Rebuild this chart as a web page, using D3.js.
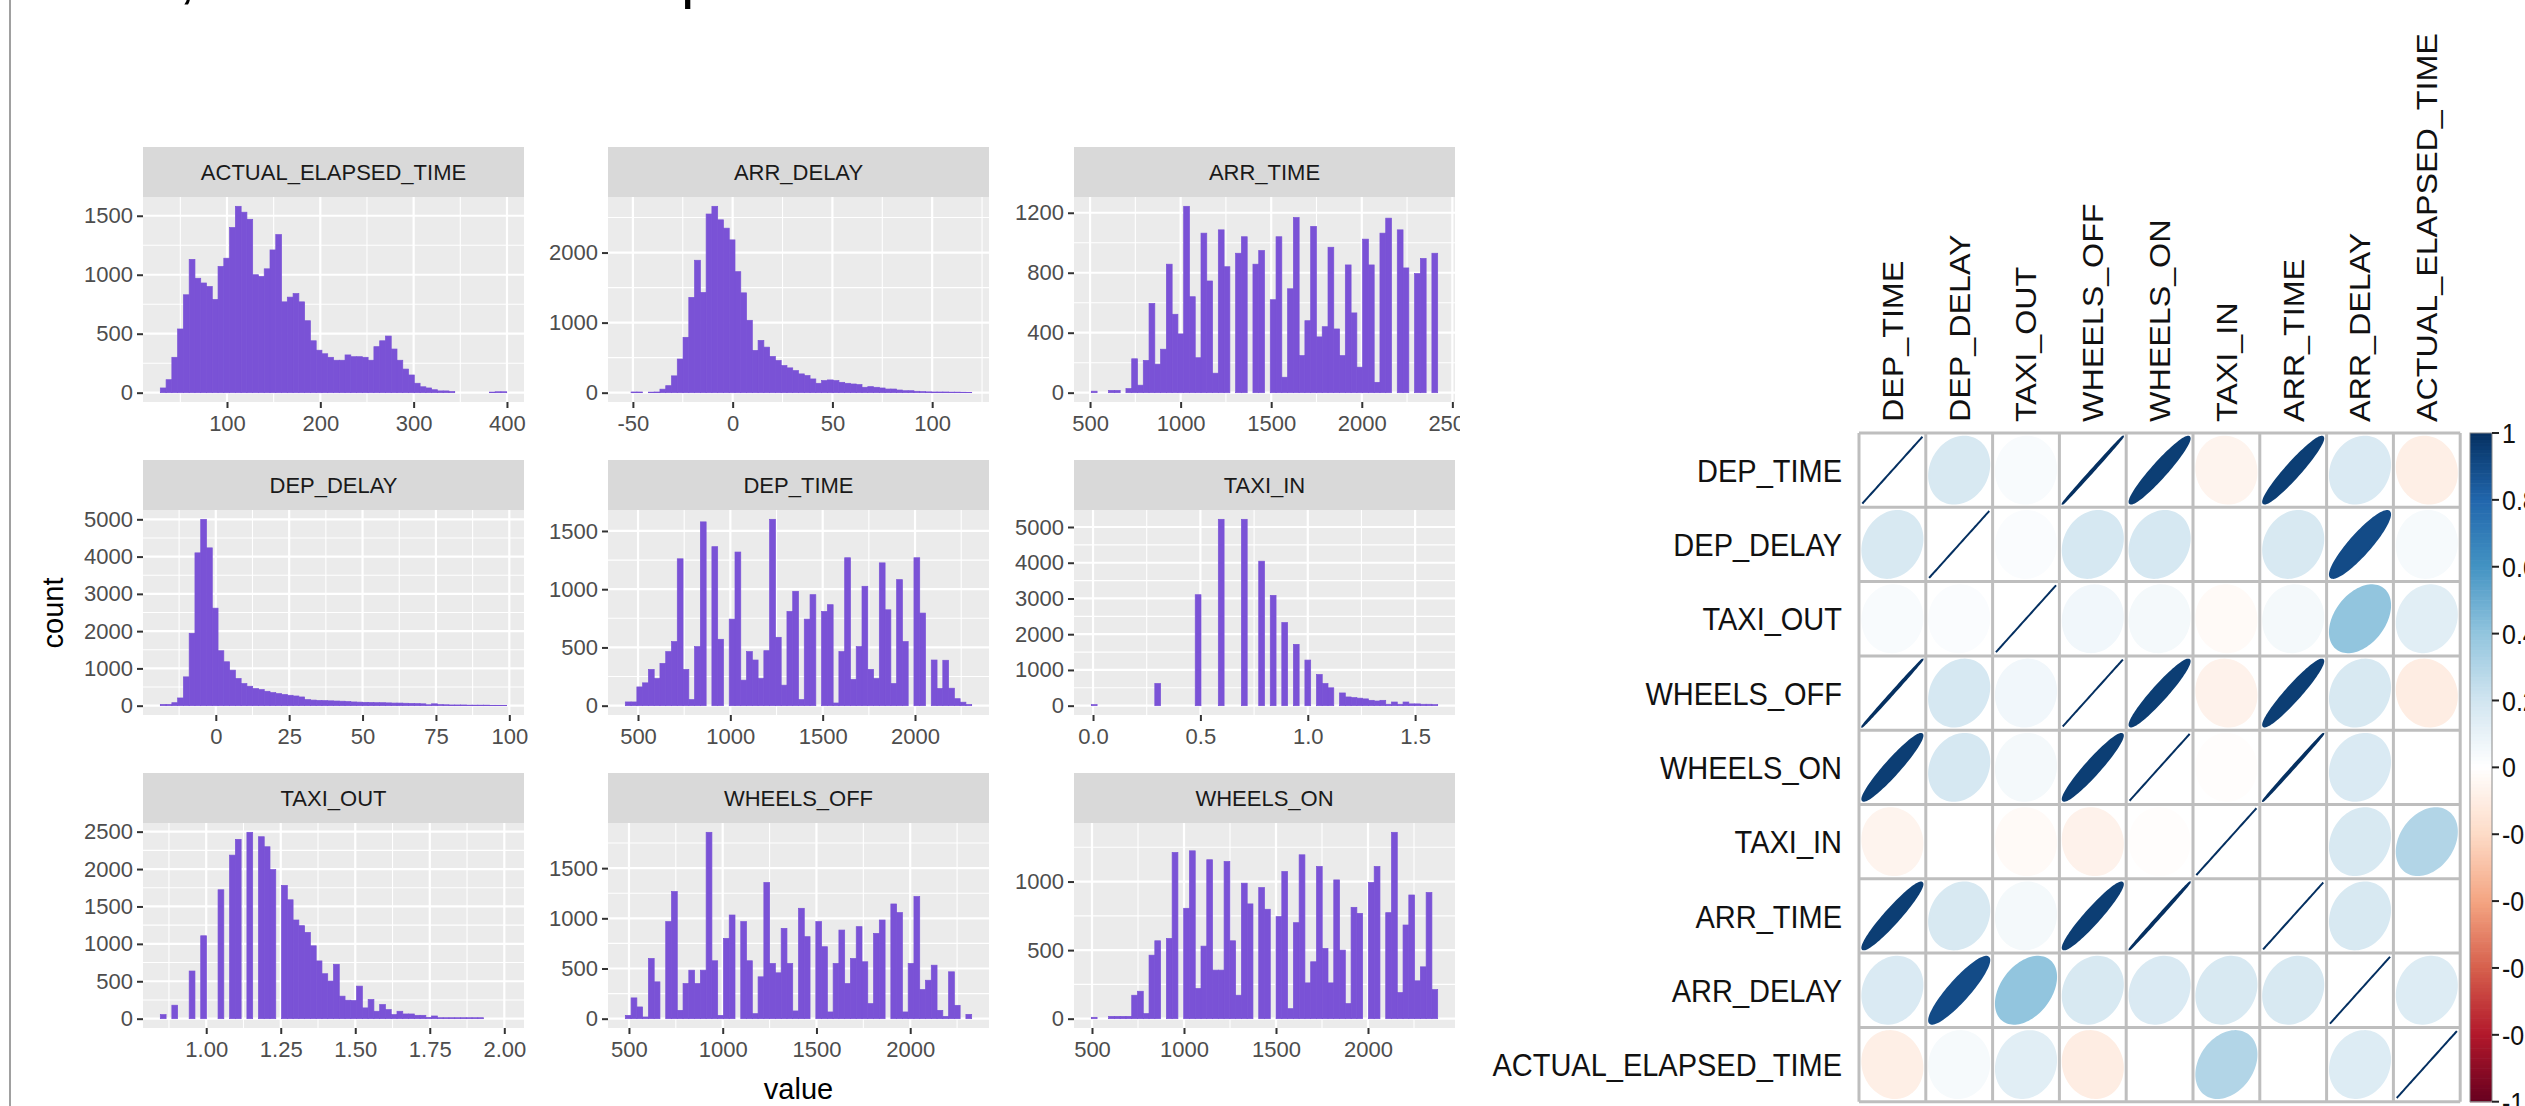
<!DOCTYPE html>
<html>
<head>
<meta charset="utf-8">
<script src="https://cdn.jsdelivr.net/npm/d3@7/dist/d3.min.js"></script>
<style>
  body { margin: 0; background: #fff; }
  svg { display: block; }
  text { font-family: "Liberation Sans", Arial, sans-serif; }
</style>
</head>
<body>
<script>
// ---------- histogram data (60 bins per variable) ----------
var facetNames = ["ACTUAL_ELAPSED_TIME", "ARR_DELAY", "ARR_TIME", "DEP_DELAY", "DEP_TIME",
                  "TAXI_IN", "TAXI_OUT", "WHEELS_OFF", "WHEELS_ON"];

// first and last bin edge of each facet
var binRange = [[28.55, 399.7], [-53.8, 119.8], [507, 2419], [-18.9, 99.1], [431.3, 2306.9],
                [-0.008, 1.605], [0.846, 2.008], [480.6, 2327.8], [496.3, 2378.7]];

var countsActualElapsed = [40,110,300,540,830,1130,970,930,900,790, 1070,1140,1400,1580,1530,1470,1000,985,1050,1210,
  1340,770,810,840,770,610,440,360,330,300, 275,275,320,305,305,300,275,390,440,480,
  370,275,200,150,80,50,40,25,15,15, 10,0,0,0,0,0,0,5,8,8];
var countsArrDelay = [0,10,10,0,8,10,50,100,240,480, 790,1360,1890,1430,2550,2660,2467,2348,2181,1727,
  1425,1033,603,746,650,517,459,387,354,315, 268,244,196,134,172,182,172,148,134,124,
  115,77,86,77,67,52,52,38,28,28, 20,15,12,10,10,10,8,8,6,5];
var countsArrTime = [10,0,0,15,15,0,27,226,50,215, 595,190,290,857,523,392,1243,640,233,1064,
  745,130,1086,840,0,930,1040,0,857,948, 0,620,1040,103,693,1168,247,480,1109,372,
  440,970,425,247,852,532,170,1024,852,69, 1064,1164,0,1086,832,0,794,895,0,930];
var countsDepDelay = [35,35,80,207,773,1942,4100,5000,4234,2616, 1474,1178,953,728,593,521,458,431,386,350,
  323,300,279,260,234,162,150,140,135,130, 125,120,110,100,95,90,85,80,80,75,
  70,70,65,60,55,50,25,50,30,25, 20,20,20,15,15,15,15,10,10,10];
var countsDepTime = [32,32,161,196,311,233,363,464,550,1261, 311,52,507,1578,0,1365,570,0,743,1319,
  219,464,392,233,472,1600,587,176,809,982, 52,743,953,0,809,867,23,464,1270,225,
  507,1025,311,233,1226,823,190,1082,550,0, 1270,795,0,392,147,390,150,60,30,10];
var countsTaxiIn = [30,0,0,0,0,0,0,0,0,0, 0,620,0,0,0,0,0,0,3105,0,
  0,0,5215,0,0,0,5215,0,0,4043, 0,3086,0,2326,0,1716,0,1276,0,872,
  620,500,0,356,244,225,210,190,150,131, 150,40,103,40,103,50,50,40,40,30];
var countsTaxiOut = [54,0,180,0,0,637,0,1108,0,0, 1723,0,2186,2397,0,2491,0,2432,2298,1993,
  0,1782,1589,1319,1243,1153,974,772,601,503, 727,301,247,242,435,144,256,99,189,121,
  54,99,63,63,45,45,18,36,13,13, 13,13,13,13,13,13,0,0,0,0];
var countsWheelsOff = [33,207,117,17,600,367,0,967,1267,83, 350,483,350,483,1857,577,33,800,1033,0,
  967,577,50,417,1357,550,457,900,550,77, 1100,817,0,967,717,67,550,883,350,600,
  917,567,150,850,983,0,1143,1057,67,550, 1217,290,383,533,83,23,467,133,0,43];
var countsWheelsOn = [10,0,0,17,17,17,17,171,200,37, 463,568,0,585,1212,0,805,1224,220,529,
  1159,354,354,1146,568,171,988,837,0,956, 798,0,744,1073,73,700,1195,261,415,1110,
  512,261,1012,500,110,812,768,0,993,1110, 0,773,1359,190,683,902,276,378,920,212];

var histCounts = [countsActualElapsed, countsArrDelay, countsArrTime, countsDepDelay, countsDepTime,
                  countsTaxiIn, countsTaxiOut, countsWheelsOff, countsWheelsOn];

var xTicks = [[100,200,300,400], [-50,0,50,100], [500,1000,1500,2000,2500], [0,25,50,75,100],
              [500,1000,1500,2000], [0,0.5,1,1.5], [1,1.25,1.5,1.75,2], [500,1000,1500,2000], [500,1000,1500,2000]];
var xTickLabels = [["100","200","300","400"], ["-50","0","50","100"], ["500","1000","1500","2000","2500"],
                   ["0","25","50","75","100"], ["500","1000","1500","2000"], ["0.0","0.5","1.0","1.5"],
                   ["1.00","1.25","1.50","1.75","2.00"], ["500","1000","1500","2000"], ["500","1000","1500","2000"]];
var yTicks = [[0,500,1000,1500], [0,1000,2000], [0,400,800,1200], [0,1000,2000,3000,4000,5000],
              [0,500,1000,1500], [0,1000,2000,3000,4000,5000], [0,500,1000,1500,2000,2500],
              [0,500,1000,1500], [0,500,1000]];

// ---------- correlation data ----------
var corVars = ["DEP_TIME", "DEP_DELAY", "TAXI_OUT", "WHEELS_OFF", "WHEELS_ON",
               "TAXI_IN", "ARR_TIME", "ARR_DELAY", "ACTUAL_ELAPSED_TIME"];
var corMatrix = [
  [1,     0.17,  0.03,  0.999, 0.95,  -0.06, 0.95,  0.16, -0.09],
  [0.17,  1,     0.02,  0.18,  0.18,  0.00,  0.17,  0.90,  0.04],
  [0.03,  0.02,  1,     0.06,  0.05,  -0.03, 0.05,  0.40,  0.13],
  [0.999, 0.18,  0.06,  1,     0.95,  -0.07, 0.95,  0.17, -0.10],
  [0.95,  0.18,  0.05,  0.95,  1,     -0.01, 0.999, 0.16,  0.00],
  [-0.06, 0.00,  -0.03, -0.07, -0.01, 1,     0.00,  0.17,  0.30],
  [0.95,  0.17,  0.05,  0.95,  0.999, 0.00,  1,     0.17,  0.00],
  [0.16,  0.90,  0.40,  0.17,  0.16,  0.17,  0.17,  1,     0.15],
  [-0.09, 0.04,  0.13,  -0.10, 0.00,  0.30,  0.00,  0.15,  1]
];
var corStops = [-1, -0.8, -0.6, -0.4, -0.2, 0, 0.2, 0.4, 0.6, 0.8, 1];
var corColors = ["#67001F", "#B2182B", "#D6604D", "#F4A582", "#FDDBC7", "#FFFFFF",
                 "#D1E5F0", "#92C5DE", "#4393C3", "#2166AC", "#053061"];
var legendLabels = ["1", "0.8", "0.6", "0.4", "0.2", "0", "-0.2", "-0.4", "-0.6", "-0.8", "-1"];

// ---------- layout ----------
var W = 2525, H = 1106;
var panelW = 381, panelH = 205, stripH = 50;
var colLeft = [143, 608, 1074];
var rowTop = [147, 460, 773];
var barFill = "#7a52d6";

var svg = d3.select("body").append("svg").attr("width", W).attr("height", H);

svg.append("defs").append("clipPath").attr("id", "histClip")
  .append("rect").attr("x", 0).attr("y", 0).attr("width", 1460).attr("height", H);

// slide frame and cut-off title
svg.append("line").attr("x1", 10).attr("x2", 10).attr("y1", 0).attr("y2", H)
  .attr("stroke", "#a0a0a0").attr("stroke-width", 2);
svg.append("text").attr("x", 179).attr("y", -3).style("font-size", "60px").attr("fill", "#000").text(",");
svg.append("text").attr("x", 681).attr("y", -3).style("font-size", "60px").attr("fill", "#000").text("p");

var hist = svg.append("g").attr("clip-path", "url(#histClip)");

facetNames.forEach(function(name, k) {
  var left = colLeft[k % 3];
  var top = rowTop[Math.floor(k / 3)] + stripH;
  var counts = histCounts[k];
  var lo = binRange[k][0], hi = binRange[k][1], span = hi - lo;
  var bw = span / counts.length;
  var x = d3.scaleLinear().domain([lo - 0.05 * span, hi + 0.05 * span]).range([left, left + panelW]);
  var M = d3.max(counts);
  var y = d3.scaleLinear().domain([-0.05 * M, 1.05 * M]).range([top + panelH, top]);

  var g = hist.append("g");
  g.append("rect").attr("x", left).attr("y", top).attr("width", panelW).attr("height", panelH)
    .attr("fill", "#ebebeb");

  // minor grid
  function minors(ticks, dom) {
    var st = ticks[1] - ticks[0], out = [];
    for (var i = -1; i < ticks.length; i++) {
      var v = ticks[0] + (i + 0.5) * st;
      if (v > dom[0] && v < dom[1]) out.push(v);
    }
    return out;
  }
  var xd = x.domain(), yd = y.domain();
  g.selectAll(".xminor").data(minors(xTicks[k], xd)).enter().append("line")
    .attr("x1", function(d) { return x(d); }).attr("x2", function(d) { return x(d); })
    .attr("y1", top).attr("y2", top + panelH).attr("stroke", "#fff").attr("stroke-width", 1.1);
  g.selectAll(".yminor").data(minors(yTicks[k], yd)).enter().append("line")
    .attr("y1", function(d) { return y(d); }).attr("y2", function(d) { return y(d); })
    .attr("x1", left).attr("x2", left + panelW).attr("stroke", "#fff").attr("stroke-width", 1.1);
  // major grid
  g.selectAll(".xmajor").data(xTicks[k].filter(function(d) { return d > xd[0] && d < xd[1]; })).enter().append("line")
    .attr("x1", function(d) { return x(d); }).attr("x2", function(d) { return x(d); })
    .attr("y1", top).attr("y2", top + panelH).attr("stroke", "#fff").attr("stroke-width", 2.2);
  g.selectAll(".ymajor").data(yTicks[k]).enter().append("line")
    .attr("y1", function(d) { return y(d); }).attr("y2", function(d) { return y(d); })
    .attr("x1", left).attr("x2", left + panelW).attr("stroke", "#fff").attr("stroke-width", 2.2);

  // bars (zero bins are left out, the rest get a hairline of the same colour so no seams show)
  g.selectAll(".bar").data(counts.map(function(c, i) { return { c: c, i: i }; })
      .filter(function(d) { return d.c > 0; }))
    .enter().append("rect")
    .attr("x", function(d) { return x(lo + d.i * bw); })
    .attr("width", function(d) { return x(lo + (d.i + 1) * bw) - x(lo + d.i * bw); })
    .attr("y", function(d) { return y(d.c); })
    .attr("height", function(d) { return y(0) - y(d.c); })
    .attr("fill", barFill)
    .attr("stroke", barFill).attr("stroke-width", 0.7);

  // strip
  g.append("rect").attr("x", left).attr("y", top - stripH).attr("width", panelW).attr("height", stripH)
    .attr("fill", "#d9d9d9");
  g.append("text").attr("x", left + panelW / 2).attr("y", top - stripH / 2).attr("dy", "0.36em")
    .attr("text-anchor", "middle").attr("fill", "#1a1a1a").style("font-size", "22px").text(name);

  // axes
  function styleAxis(a) {
    a.select(".domain").remove();
    a.attr("font-family", null).attr("font-size", null);
    a.selectAll("line").attr("stroke", "#333").attr("stroke-width", 2);
    a.selectAll("text").attr("fill", "#4d4d4d").style("font-size", "22px");
  }
  g.append("g").attr("transform", "translate(0," + (top + panelH) + ")")
    .call(d3.axisBottom(x).tickValues(xTicks[k]).tickSize(6).tickPadding(7)
      .tickFormat(function(d, i) { return xTickLabels[k][i]; }))
    .call(styleAxis);
  g.append("g").attr("transform", "translate(" + left + ",0)")
    .call(d3.axisLeft(y).tickValues(yTicks[k]).tickSize(6).tickPadding(4).tickFormat(d3.format("d")))
    .call(styleAxis);
});

// axis titles
svg.append("text").attr("transform", "translate(63,613) rotate(-90)").attr("text-anchor", "middle")
  .attr("fill", "#000").style("font-size", "29px").text("count");
svg.append("text").attr("x", colLeft[1] + panelW / 2).attr("y", 1099).attr("text-anchor", "middle")
  .attr("fill", "#000").style("font-size", "29px").text("value");

// ---------- correlation plot (ellipses) ----------
var cpLeft = 1859, cpTop = 433, cw = 66.8, ch = 74.3, sy = ch / cw;
var nVar = corVars.length;
var corColor = d3.scaleLinear().domain(corStops).range(corColors);
var cx = d3.scaleBand().domain(corVars).range([cpLeft, cpLeft + nVar * cw]);
var cy = d3.scaleBand().domain(corVars).range([cpTop, cpTop + nVar * ch]);

var cp = svg.append("g");
cp.append("rect").attr("x", cpLeft).attr("y", cpTop).attr("width", nVar * cw).attr("height", nVar * ch)
  .attr("fill", "#fff");

var cells = [];
corVars.forEach(function(rv, i) {
  corVars.forEach(function(cv, j) { cells.push({ row: rv, col: cv, r: corMatrix[i][j] }); });
});

function ellipsePath(d) {
  var x0 = cx(d.col) + cw / 2, y0 = cy(d.row) + ch / 2;
  var phi = Math.acos(Math.max(-1, Math.min(1, d.r))) / 2;
  var pts = d3.range(0, 101).map(function(s) {
    var t = s / 100 * 2 * Math.PI;
    return [x0 + 0.45 * cw * Math.cos(t + phi), y0 - 0.45 * ch * Math.cos(t - phi)];
  });
  return d3.line()(pts) + "Z";
}
cp.selectAll(".ell").data(cells).enter().append("path")
  .attr("d", ellipsePath)
  .attr("fill", function(d) { return corColor(d.r); })
  .attr("stroke", function(d) { return corColor(d.r); })
  .attr("stroke-width", 2);

// grid
cp.selectAll(".vg").data(d3.range(nVar + 1)).enter().append("line")
  .attr("x1", function(d) { return cpLeft + d * cw; }).attr("x2", function(d) { return cpLeft + d * cw; })
  .attr("y1", cpTop).attr("y2", cpTop + nVar * ch).attr("stroke", "#bebebe").attr("stroke-width", 3);
cp.selectAll(".hg").data(d3.range(nVar + 1)).enter().append("line")
  .attr("y1", function(d) { return cpTop + d * ch; }).attr("y2", function(d) { return cpTop + d * ch; })
  .attr("x1", cpLeft).attr("x2", cpLeft + nVar * cw).attr("stroke", "#bebebe").attr("stroke-width", 3);

// labels
cp.selectAll(".rl").data(corVars).enter().append("text")
  .attr("transform", function(d) { return "translate(" + (cpLeft - 17) + "," + (cy(d) + ch / 2) + ") scale(1," + sy + ")"; })
  .attr("dy", "0.36em").attr("text-anchor", "end").attr("fill", "#111").style("font-size", "29px")
  .text(function(d) { return d; });
cp.selectAll(".cl").data(corVars).enter().append("text")
  .attr("transform", function(d) { return "translate(" + (cx(d) + cw / 2) + "," + (cpTop - 11) + ") scale(1," + sy + ") rotate(-90)"; })
  .attr("dy", "0.36em").attr("text-anchor", "start").attr("fill", "#111").style("font-size", "29px")
  .text(function(d) { return d; });

// colour legend
var legX = 2470, legW = 22, legTop = cpTop, legBot = cpTop + nVar * ch;
var ly = d3.scaleLinear().domain([1, -1]).range([legTop, legBot]);
var nCol = 200;
cp.selectAll(".lg").data(d3.range(nCol)).enter().append("rect")
  .attr("x", legX).attr("width", legW)
  .attr("y", function(d) { return ly(1 - 2 * d / nCol); })
  .attr("height", (legBot - legTop) / nCol + 0.6)
  .attr("fill", function(d) { return corColor(1 - 2 * (d + 0.5) / nCol); });
cp.append("rect").attr("x", legX).attr("y", legTop).attr("width", legW).attr("height", legBot - legTop)
  .attr("fill", "none").attr("stroke", "#8a8a8a").attr("stroke-width", 1);
var legVals = corStops.slice().reverse();
cp.selectAll(".lt").data(legVals).enter().append("line")
  .attr("x1", legX + legW).attr("x2", legX + legW + 7)
  .attr("y1", function(d) { return ly(d); }).attr("y2", function(d) { return ly(d); })
  .attr("stroke", "#222").attr("stroke-width", 2);
cp.selectAll(".ltx").data(legVals).enter().append("text")
  .attr("transform", function(d) { return "translate(" + (legX + legW + 10) + "," + ly(d) + ") scale(1," + sy + ")"; })
  .attr("dy", "0.36em").attr("fill", "#111").style("font-size", "25px")
  .text(function(d, i) { return legendLabels[i]; });
</script>
</body>
</html>
